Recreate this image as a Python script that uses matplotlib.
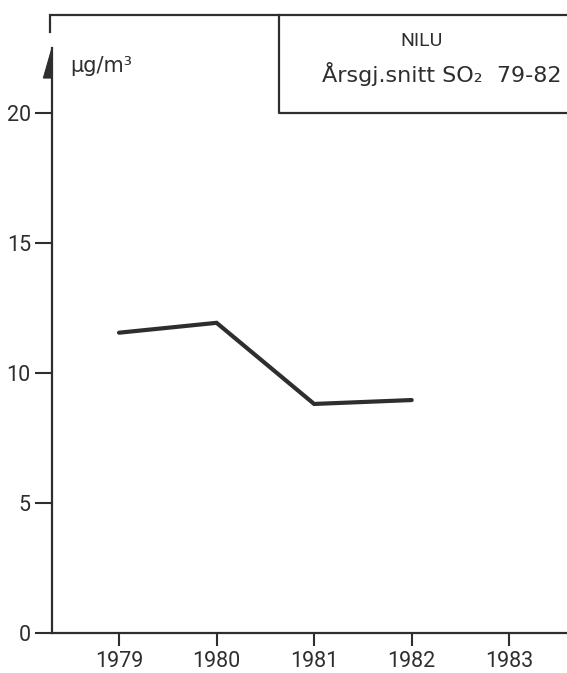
import matplotlib
matplotlib.use("Agg")
import matplotlib.pyplot as plt
from matplotlib.patches import Polygon

years = [1979, 1980, 1981, 1982]
so2 = [11.55, 11.93, 8.81, 8.96]
xticks = [1979, 1980, 1981, 1982, 1983]
yticks = [0, 5, 10, 15, 20]
unit_label = "µg/m³"
box_title = "NILU"
box_sub = "Årsgj.snitt SO₂  79-82"

plt.rcParams['font.family'] = ['Roboto', 'DejaVu Sans']

ink = '#2e2e2e'
W, H = 567, 673
fig = plt.figure(figsize=(W / 100, H / 100), dpi=100)
left_px, bottom_px, top_px = 51.7, 633, 15
ax = fig.add_axes([left_px / W, (H - bottom_px) / H, 1 - left_px / W + 0.01, (bottom_px - top_px) / H])

ax.plot(years, so2, color=ink, lw=3.0, solid_capstyle='round', solid_joinstyle='miter')

ax.set_xlim(1978.31, 1983.65)
ax.set_ylim(0, 23.77)
ax.set_xticks(xticks)
ax.set_yticks(yticks)
ax.tick_params(axis='both', direction='out', width=1.5, color=ink,
               labelsize=15.5, labelcolor=ink)
ax.tick_params(axis='x', length=9, pad=4)
ax.tick_params(axis='y', length=12, pad=3)

for s in ['left', 'bottom', 'top']:
    ax.spines[s].set_linewidth(1.6)
    ax.spines[s].set_color(ink)
ax.spines['right'].set_visible(False)
ax.spines['left'].set_bounds(0, 22.5)

# short upper piece of the left spine
ax.plot([-0.003, -0.003], [0.972, 1.0], transform=ax.transAxes, color=ink, lw=1.6, clip_on=False)
# half arrowhead on the y axis
ax.add_patch(Polygon([[0.001, 0.948], [-0.016, 0.898], [0.001, 0.898]], closed=True,
                     transform=ax.transAxes, facecolor=ink, edgecolor=ink, lw=0.8, clip_on=False))

# box in the top right
bx0, by0 = 0.4366, 0.841
ax.plot([bx0, bx0, 1.05], [1.0, by0, by0], transform=ax.transAxes, color=ink, lw=1.6, clip_on=False)
ax.text(0.710, 0.950, box_title, transform=ax.transAxes, ha='center', va='baseline',
        fontsize=14, color=ink)
ax.text(0.748, 0.8916, box_sub, transform=ax.transAxes, ha='center', va='baseline',
        fontsize=16, color=ink, family=['DejaVu Sans'])

ax.text(0.0355, 0.908, unit_label, transform=ax.transAxes, ha='left', va='baseline',
        fontsize=15, color=ink, family=['DejaVu Sans'])

fig.savefig("out.png", dpi=100, facecolor='white')
